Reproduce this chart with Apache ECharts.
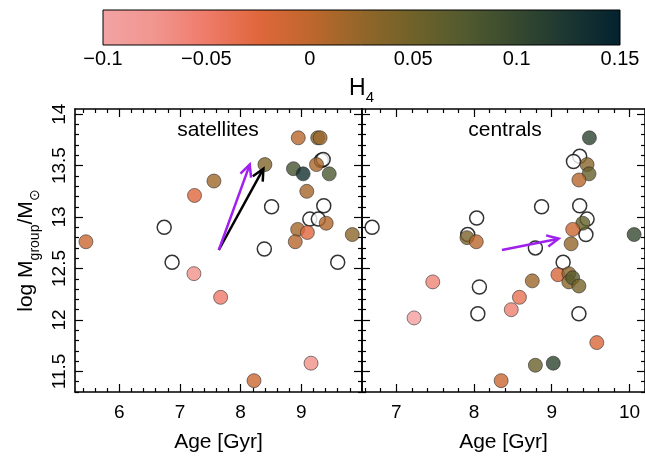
<!DOCTYPE html>
<html><head><meta charset="utf-8">
<script src="https://cdn.jsdelivr.net/npm/echarts@6/dist/echarts.min.js"></script>
<style>html,body{margin:0;padding:0;background:#fff}#c{width:645px;height:461px}</style>
</head><body><div id="c"></div>
<script>
// ---------------- data ----------------
// satellites: [age Gyr, log Mgroup, H4]
const satFilled = [
  [5.45,12.76,-0.008],[7.23,12.45,-0.07],[7.24,13.21,-0.025],[7.56,13.35,0.018],
  [7.67,12.22,-0.05],[8.22,11.41,-0.008],[8.40,13.51,0.038],[8.95,13.77,0.005],
  [9.27,13.77,0.04],[9.31,13.77,0.02],[8.87,13.47,0.087],[9.03,13.42,0.133],
  [9.25,13.51,0.012],[9.46,13.42,0.08],[9.09,13.25,0.015],[9.41,12.94,0.008],
  [8.94,12.88,0.015],[9.10,12.85,-0.025],[8.90,12.76,0.005],[9.84,12.83,0.03],
  [9.16,11.58,-0.07]
];
// satellites without H4: [age, log Mgroup]
const satOpen = [
  [6.74,12.90],[6.87,12.56],[8.39,12.69],[8.51,13.10],[9.33,13.55],[9.36,13.56],
  [9.37,13.11],[9.14,12.98],[9.28,12.98],[9.60,12.56]
];
// centrals: [age, log Mgroup, H4]
const cenFilled = [
  [9.485,13.77,0.108],[9.455,13.51,0.033],[9.48,13.42,0.058],[9.35,13.36,0.005],
  [9.40,12.94,0.06],[9.27,12.88,-0.01],[7.91,12.80,0.043],[8.03,12.76,0.003],
  [10.06,12.83,0.1],[9.25,12.74,0.025],[9.08,12.44,-0.02],[9.22,12.45,0.03],
  [9.22,12.37,0.033],[9.27,12.41,0.07],[9.35,12.33,0.045],[8.75,12.38,0.02],
  [7.47,12.37,-0.058],[8.585,12.22,-0.037],[8.48,12.10,-0.055],[7.23,12.02,-0.093],
  [9.58,11.78,-0.02],[8.79,11.56,0.055],[9.02,11.58,0.108],[8.35,11.41,-0.008]
];
const cenOpen = [
  [9.36,13.59],[9.28,13.54],[8.87,13.10],[9.36,13.11],[8.035,12.99],[9.455,12.98],
  [6.69,12.90],[9.44,12.83],[7.92,12.83],[8.79,12.70],[9.147,12.56],[9.35,12.06],
  [8.07,12.32],[8.05,12.06]
];
// arrows: [x0, y0, x1, y1]
const satArrowBlack = [[7.64,12.68,8.375,13.47]];
const satArrowPurple = [[7.64,12.68,8.15,13.51]];
const cenArrowPurple = [[8.36,12.68,9.09,12.79]];

// axes / ticks
const satXRange = [5.27, 10.0];
const cenXRange = [6.56, 10.2];
const yRange = [11.3, 14.05];
const satXTicks = [6,7,8,9];
const cenXTicks = [7,8,9,10];
const yTicks = [11.5,12,12.5,13,13.5,14];
const h4Range = [-0.1, 0.15];
const h4Ticks = [-0.1,-0.05,0,0.05,0.1,0.15];
const h4Colors = ['#f2a3a3','#f1958f','#ef7b6a','#e0673c','#bf672c','#93662a',
                  '#706229','#525a2f','#36492f','#1b3532','#03222f'];

function minorTicks(lo, hi, step, majorStep) {
  const out = [];
  for (let v = Math.ceil(lo/step)*step; v <= hi + 1e-9; v += step) {
    const r = Math.round(v*100)/100;
    if (Math.abs(r/majorStep - Math.round(r/majorStep)) > 1e-6) out.push(r);
  }
  return out;
}
const satXMinor = minorTicks(satXRange[0], satXRange[1], 0.2, 1);
const cenXMinor = minorTicks(cenXRange[0], cenXRange[1], 0.2, 1);
const yMinor = minorTicks(yRange[0], yRange[1], 0.1, 0.5);

// ---------------- chart ----------------
const FONT = '"Liberation Sans", Arial, Helvetica, sans-serif';
const chart = echarts.init(document.getElementById('c'), null, {renderer:'canvas'});
const LINE = {color:'#000', width:1.6};
const TICK = {color:'#000', width:1.2};

function xAxes(grid, range, major, minor, withName) {
  const base = {type:'value', gridIndex:grid, min:range[0], max:range[1], splitLine:{show:false}};
  return [
    Object.assign({}, base, {position:'bottom',
      axisLine:{show:true, onZero:false, lineStyle:LINE},
      axisTick:{show:true, inside:true, length:8, customValues:major, lineStyle:TICK},
      axisLabel:{show:true, customValues:major, margin:11, color:'#000', fontSize:19, fontFamily:FONT},
      name:withName ? 'Age [Gyr]' : '', nameLocation:'middle', nameGap:40,
      nameTextStyle:{color:'#000', fontSize:21, fontFamily:FONT}}),
    Object.assign({}, base, {position:'bottom', axisLine:{show:false, onZero:false},
      axisTick:{show:true, inside:true, length:4, customValues:minor, lineStyle:TICK}, axisLabel:{show:false}}),
    Object.assign({}, base, {position:'top', axisLine:{show:true, onZero:false, lineStyle:LINE},
      axisTick:{show:true, inside:true, length:8, customValues:major, lineStyle:TICK}, axisLabel:{show:false}}),
    Object.assign({}, base, {position:'top', axisLine:{show:false, onZero:false},
      axisTick:{show:true, inside:true, length:4, customValues:minor, lineStyle:TICK}, axisLabel:{show:false}})
  ];
}
const SUBRICH = function (big, small, lift) {
  return {
    a:{fontSize:big, verticalAlign:'bottom', padding:[0,0,lift,0], fontFamily:FONT, color:'#000'},
    s:{fontSize:small, verticalAlign:'bottom', fontFamily:FONT, color:'#000'}
  };
};
function yAxes(grid, withLabels) {
  const base = {type:'value', gridIndex:grid, min:yRange[0], max:yRange[1], splitLine:{show:false}};
  return [
    Object.assign({}, base, {position:'left',
      axisLine:{show:true, onZero:false, lineStyle:LINE},
      axisTick:{show:true, inside:true, length:8, customValues:yTicks, lineStyle:TICK},
      axisLabel:{show:withLabels, customValues:yTicks, rotate:90, margin:6, color:'#000', fontSize:19, fontFamily:FONT},
      name:withLabels ? '{a|log M}{s|group}{a|/M}{s|\u2299}' : '', nameLocation:'middle', nameGap:33,
      nameTextStyle:{color:'#000', fontFamily:FONT, rich:SUBRICH(21, 14, 5)}}),
    Object.assign({}, base, {position:'left', axisLine:{show:false, onZero:false},
      axisTick:{show:true, inside:true, length:4, customValues:yMinor, lineStyle:TICK}, axisLabel:{show:false}}),
    Object.assign({}, base, {position:'right', axisLine:{show:true, onZero:false, lineStyle:LINE},
      axisTick:{show:true, inside:true, length:8, customValues:yTicks, lineStyle:TICK}, axisLabel:{show:false}}),
    Object.assign({}, base, {position:'right', axisLine:{show:false, onZero:false},
      axisTick:{show:true, inside:true, length:4, customValues:yMinor, lineStyle:TICK}, axisLabel:{show:false}})
  ];
}

function arrowRender(color) {
  return function (params, api) {
    const p0 = api.coord([api.value(0), api.value(1)]);
    const p1 = api.coord([api.value(2), api.value(3)]);
    const ang = Math.atan2(p1[1]-p0[1], p1[0]-p0[0]);
    const L = 13, a = 0.45;
    const h1 = [p1[0]-L*Math.cos(ang-a), p1[1]-L*Math.sin(ang-a)];
    const h2 = [p1[0]-L*Math.cos(ang+a), p1[1]-L*Math.sin(ang+a)];
    return {type:'group', children:[
      {type:'line', shape:{x1:p0[0], y1:p0[1], x2:p1[0], y2:p1[1]}, style:{stroke:color, lineWidth:2.5}},
      {type:'polyline', shape:{points:[h1, p1, h2]}, style:{stroke:color, lineWidth:2.5, fill:null}}
    ]};
  };
}

const openStyle = {color:'#fff', borderColor:'#000', borderWidth:1.5};
const filledStyle = {borderColor:'#222', borderWidth:0.7};

const option = {
  animation:false,
  backgroundColor:'#fff',
  grid:[
    {left:75, top:109, width:287, height:283},
    {left:362, top:109, width:287, height:283},
    {left:103, top:10, width:517, height:35}
  ],
  xAxis: [].concat(
    xAxes(0, satXRange, satXTicks, satXMinor, true),
    xAxes(1, cenXRange, cenXTicks, cenXMinor, true),
    [{type:'value', gridIndex:2, min:h4Range[0], max:h4Range[1], position:'bottom',
      splitLine:{show:false}, axisLine:{show:false}, axisTick:{show:false},
      axisLabel:{customValues:h4Ticks, margin:4, color:'#000', fontSize:20, fontFamily:FONT,
        formatter: v => v < 0 ? '\u2212' + String(Math.abs(v)) : String(v)},
      name:'{a|H}{s|4}', nameLocation:'middle', nameGap:32,
      nameTextStyle:{rich:SUBRICH(23, 15, 5)}}]
  ),
  yAxis: [].concat(
    yAxes(0, true),
    yAxes(1, false),
    [{type:'value', gridIndex:2, min:0, max:1, show:false}]
  ),
  visualMap:{type:'continuous', show:false, min:h4Range[0], max:h4Range[1], dimension:2,
    seriesIndex:[1,3], inRange:{color:h4Colors}},
  graphic:[
    {type:'text', x:218, y:130, style:{text:'satellites', font:'21px ' + FONT, fill:'#000', textAlign:'center', textVerticalAlign:'middle'}},
    {type:'text', x:505, y:130, style:{text:'centrals', font:'21px ' + FONT, fill:'#000', textAlign:'center', textVerticalAlign:'middle'}}
  ],
  series:[
    {type:'scatter', xAxisIndex:0, yAxisIndex:0, data:satOpen, symbolSize:14, itemStyle:openStyle, z:2},
    {type:'scatter', xAxisIndex:0, yAxisIndex:0, data:satFilled, symbolSize:14, itemStyle:filledStyle, z:3},
    {type:'scatter', xAxisIndex:4, yAxisIndex:4, data:cenOpen, symbolSize:14, itemStyle:openStyle, z:2},
    {type:'scatter', xAxisIndex:4, yAxisIndex:4, data:cenFilled, symbolSize:14, itemStyle:filledStyle, z:3},
    {type:'custom', xAxisIndex:0, yAxisIndex:0, data:satArrowBlack, renderItem:arrowRender('#000'), encode:{x:[0,2], y:[1,3]}, clip:false, z:4},
    {type:'custom', xAxisIndex:0, yAxisIndex:0, data:satArrowPurple, renderItem:arrowRender('#a020f0'), encode:{x:[0,2], y:[1,3]}, clip:false, z:4},
    {type:'custom', xAxisIndex:4, yAxisIndex:4, data:cenArrowPurple, renderItem:arrowRender('#a020f0'), encode:{x:[0,2], y:[1,3]}, clip:false, z:4},
    {type:'custom', xAxisIndex:8, yAxisIndex:8, data:[[h4Range[0], 0, h4Range[1], 1]], encode:{x:[0,2], y:[1,3]}, clip:false, z:1,
      renderItem:function (params, api) {
        const p0 = api.coord([api.value(0), api.value(3)]);
        const p1 = api.coord([api.value(2), api.value(1)]);
        const stops = h4Colors.map((c, i) => ({offset:i/(h4Colors.length-1), color:c}));
        return {type:'rect', shape:{x:p0[0], y:p0[1], width:p1[0]-p0[0], height:p1[1]-p0[1]},
          style:{fill:new echarts.graphic.LinearGradient(0,0,1,0,stops), stroke:'#000', lineWidth:1}};
      }}
  ]
};
chart.setOption(option);
</script></body></html>
